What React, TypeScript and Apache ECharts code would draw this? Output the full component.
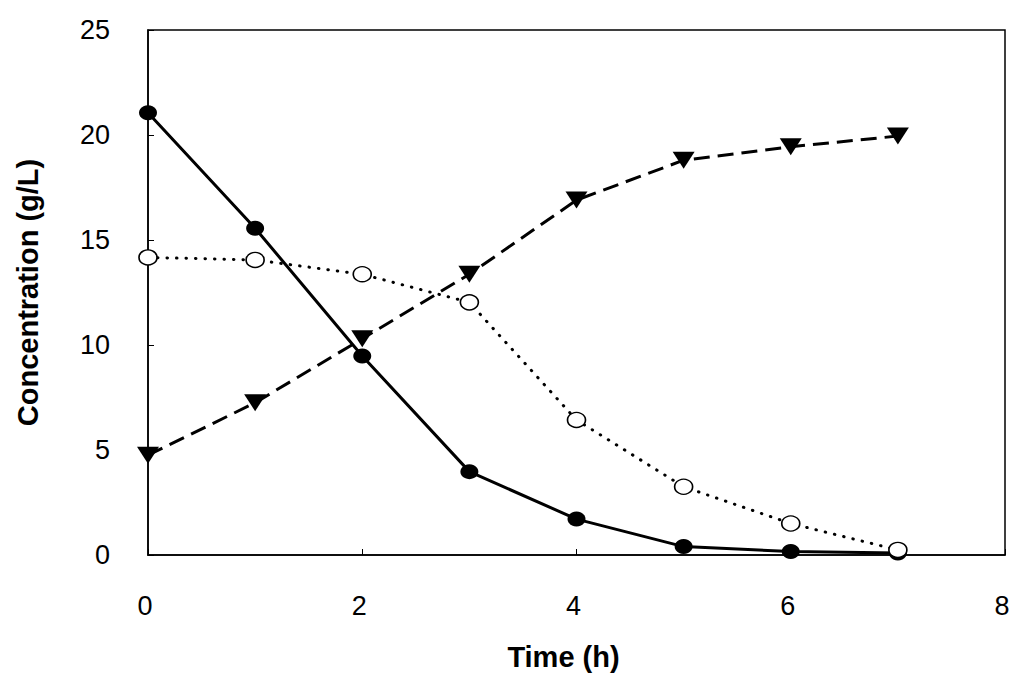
import React, { useEffect, useRef } from "react";
import * as echarts from "echarts";

const timeH = [0, 1, 2, 3, 4, 5, 6, 7];
const filledCircle = [21.06, 15.56, 9.48, 3.97, 1.71, 0.4, 0.17, 0.1];
const openCircle = [14.17, 14.05, 13.37, 12.03, 6.43, 3.25, 1.5, 0.24];
const triangle = [4.75, 7.25, 10.3, 13.37, 16.9, 18.8, 19.44, 19.95];
const xTicks = [0, 2, 4, 6, 8];
const yTicks = [0, 5, 10, 15, 20, 25];

const FONT = "'Liberation Sans', Arial, Helvetica, sans-serif";

const pairs = (ys: number[]) => timeH.map((t, i) => [t, ys[i]]);

export default function App() {
  const ref = useRef<HTMLDivElement>(null);
  useEffect(() => {
    document.body.style.margin = "0";
    const chart = echarts.init(ref.current!, null, { renderer: "svg" });
    chart.setOption({
      animation: false,
      backgroundColor: "#fff",
      textStyle: { fontFamily: FONT, color: "#000" },
      grid: {
        left: 148,
        top: 30,
        right: 19,
        bottom: 135,
        show: true,
        borderColor: "#000",
        borderWidth: 1.5,
      },
      xAxis: {
        type: "value",
        min: xTicks[0],
        max: xTicks[xTicks.length - 1],
        interval: 2,
        name: "Time (h)",
        nameLocation: "middle",
        nameGap: 87,
        nameTextStyle: {
          fontFamily: FONT,
          fontWeight: "bold",
          fontSize: 29,
          color: "#000",
          padding: [0, 26, 0, 0],
        },
        axisLine: { show: true, lineStyle: { color: "#000", width: 1.5 } },
        axisTick: { show: true, inside: true, length: 6, lineStyle: { color: "#000", width: 1 } },
        axisLabel: {
          margin: 37,
          fontFamily: FONT,
          fontSize: 27,
          color: "#000",
          padding: [0, 6, 0, 0],
        },
        splitLine: { show: false },
      },
      yAxis: {
        type: "value",
        min: yTicks[0],
        max: yTicks[yTicks.length - 1],
        interval: 5,
        name: "Concentration (g/L)",
        nameLocation: "middle",
        nameRotate: 90,
        nameGap: 106,
        nameTextStyle: {
          fontFamily: FONT,
          fontWeight: "bold",
          fontSize: 29,
          color: "#000",
        },
        axisLine: { show: true, lineStyle: { color: "#000", width: 1.5 } },
        axisTick: { show: true, inside: true, length: 6, lineStyle: { color: "#000", width: 1 } },
        axisLabel: {
          margin: 38,
          fontFamily: FONT,
          fontSize: 27,
          color: "#000",
          padding: [0, 0, 8, 0],
        },
        splitLine: { show: false },
      },
      series: [
        {
          name: "triangle",
          type: "line",
          data: pairs(triangle),
          symbol: "triangle",
          symbolRotate: 180,
          symbolSize: [22, 17],
          showAllSymbol: true,
          lineStyle: { color: "#000", width: 3, type: [16, 8] },
          itemStyle: { color: "#000", borderColor: "#000", borderWidth: 0 },
          z: 2,
        },
        {
          name: "open",
          type: "line",
          data: pairs(openCircle),
          symbol: "circle",
          symbolSize: [18, 15],
          showAllSymbol: true,
          lineStyle: { color: "#000", width: 3, type: [0.5, 9], cap: "round" },
          itemStyle: { color: "#fff", borderColor: "#000", borderWidth: 1.5 },
          z: 3,
        },
        {
          name: "filled",
          type: "line",
          data: pairs(filledCircle),
          symbol: "circle",
          symbolSize: [18, 15],
          showAllSymbol: true,
          lineStyle: { color: "#000", width: 3, type: "solid" },
          itemStyle: { color: "#000", borderColor: "#000", borderWidth: 0 },
          z: 2,
        },
      ],
    });
    return () => chart.dispose();
  }, []);
  return <div ref={ref} style={{ width: 1024, height: 690 }} />;
}
